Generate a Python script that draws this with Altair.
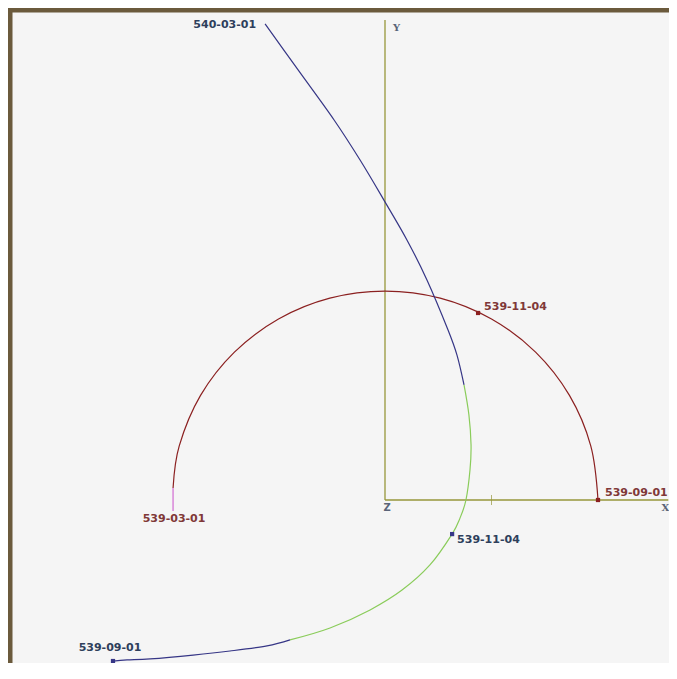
import altair as alt
import pandas as pd

# ---------------- data (AU, heliocentric) ----------------
earth_x = [1.000, 0.966, 0.866, 0.707, 0.500, 0.259, 0.000, -0.259, -0.500,
           -0.707, -0.866, -0.966, -0.995]
earth_y = [0.000, 0.254, 0.491, 0.694, 0.850, 0.948, 0.981, 0.948, 0.850,
           0.694, 0.491, 0.254, 0.056]
earth_tail_x = [-0.995, -0.995]
earth_tail_y = [0.056, -0.052]

comet_out_x = [-0.563, -0.408, -0.239, -0.117, -0.005, 0.103, 0.197, 0.296, 0.338, 0.371]
comet_out_y = [2.235, 2.019, 1.784, 1.596, 1.408, 1.221, 1.033, 0.798, 0.680, 0.540]
comet_peri_x = [0.371, 0.394, 0.404, 0.399, 0.380, 0.352, 0.315, 0.211, 0.080,
                -0.070, -0.258, -0.446]
comet_peri_y = [0.540, 0.399, 0.258, 0.141, 0.000, -0.085, -0.160, -0.305, -0.423,
                -0.516, -0.601, -0.657]
comet_in_x = [-0.446, -0.554, -0.728, -0.901, -1.103, -1.211, -1.277]
comet_in_y = [-0.657, -0.685, -0.709, -0.728, -0.746, -0.751, -0.756]

earth_marks = ["539-09-01", "539-11-04"]
earth_mark_x = [1.000, 0.437]
earth_mark_y = [0.000, 0.878]
comet_marks = ["539-09-01", "539-11-04"]
comet_mark_x = [-1.277, 0.315]
comet_mark_y = [-0.756, -0.160]
earth_end_label = "539-03-01"
comet_end_label = "540-03-01"

axis_len_x = 1.33
axis_len_y = 2.254
axis_tick = [0.5]

# ---------------- layout ----------------
W, H = 661, 655
PX = 213.0
X0, Y0 = 377, 492
xscale = alt.Scale(domain=[-X0 / PX, (W - X0) / PX], nice=False, zero=False)
yscale = alt.Scale(domain=[-(H - Y0) / PX, Y0 / PX], nice=False, zero=False)
X = alt.X("x:Q", scale=xscale, axis=None)
Y = alt.Y("y:Q", scale=yscale, axis=None)

OLIVE = "#96963a"
RED = "#8b2020"
PINK = "#d987d9"
BLUE = "#363686"
GREEN = "#8acc5a"
RED_TXT = "#803838"
BLUE_TXT = "#2e3f5c"
AXIS_TXT = "#5a6478"
FONT = "DejaVu Sans"


def line(xs, ys, color, width=1.2):
    df = pd.DataFrame({"x": xs, "y": ys, "i": list(range(len(xs)))})
    return alt.Chart(df).mark_line(color=color, strokeWidth=width,
                                   interpolate="cardinal").encode(x=X, y=Y, order="i:Q")


def text(x, y, t, color, align, dx, dy, size=11, bold=True, font=FONT):
    df = pd.DataFrame({"x": [x], "y": [y], "t": [t]})
    kw = dict(color=color, align=align, baseline="middle", dx=dx, dy=dy,
              fontSize=size, font=font)
    if bold:
        kw["fontWeight"] = "bold"
    return alt.Chart(df).mark_text(**kw).encode(x=X, y=Y, text="t:N")


def marks(xs, ys, color):
    df = pd.DataFrame({"x": xs, "y": ys})
    return alt.Chart(df).mark_square(size=18, color=color, opacity=1).encode(x=X, y=Y)


border_l = alt.Chart(pd.DataFrame({"a": [0]})).mark_rule(color="#6b5a3c", strokeWidth=5).encode(
    x=alt.value(2), y=alt.value(0), y2=alt.value(H))
border_t = alt.Chart(pd.DataFrame({"a": [0]})).mark_rule(color="#6b5a3c", strokeWidth=5).encode(
    y=alt.value(2), x=alt.value(0), x2=alt.value(W))

axes_df = pd.DataFrame({"x": [0.0, 0.0], "y": [0.0, 0.0],
                        "x2": [0.0, axis_len_x], "y2": [axis_len_y, 0.0]})
axes = alt.Chart(axes_df).mark_rule(color=OLIVE, strokeWidth=1.3).encode(
    x=X, y=Y, x2="x2:Q", y2="y2:Q")
ticks = alt.Chart(pd.DataFrame({"x": axis_tick, "y": [0.0]})).mark_tick(
    color=OLIVE, size=10, thickness=1, orient="vertical").encode(x=X, y=Y)

layers = [
    border_l, border_t, axes, ticks,
    text(0, axis_len_y, "Y", AXIS_TXT, "left", 8, 8, size=10, font="DejaVu Serif"),
    text(axis_len_x, 0, "X", AXIS_TXT, "right", 1, 8, size=10, font="DejaVu Serif"),
    text(0, 0, "Z", AXIS_TXT, "center", 2, 8, size=10, font="DejaVu Sans"),
    line(earth_x, earth_y, RED),
    line(earth_tail_x, earth_tail_y, PINK, 1.5),
    line(comet_out_x, comet_out_y, BLUE),
    line(comet_peri_x, comet_peri_y, GREEN),
    line(comet_in_x, comet_in_y, BLUE),
    marks(earth_mark_x, earth_mark_y, RED),
    marks(comet_mark_x, comet_mark_y, BLUE),
    text(earth_mark_x[0], earth_mark_y[0], earth_marks[0], RED_TXT, "left", 7, -7),
    text(earth_mark_x[1], earth_mark_y[1], earth_marks[1], RED_TXT, "left", 6, -6),
    text(earth_tail_x[-1], earth_tail_y[-1], earth_end_label, RED_TXT, "center", 1, 8),
    text(comet_mark_x[0], comet_mark_y[0], comet_marks[0], BLUE_TXT, "center", -3, -13),
    text(comet_mark_x[1], comet_mark_y[1], comet_marks[1], BLUE_TXT, "left", 5, 6),
    text(comet_out_x[0], comet_out_y[0], comet_end_label, BLUE_TXT, "right", -9, 1),
]

chart = alt.layer(*layers).properties(
    width=W, height=H, background="#f5f5f5",
    autosize=alt.AutoSizeParams(type="none"), padding=0,
).configure_view(stroke=None, fill="#f5f5f5")

chart.save("out.html", embed_options={"renderer": "svg", "actions": False})
